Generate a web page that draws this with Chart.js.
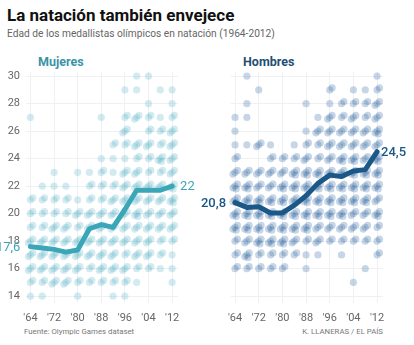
<!DOCTYPE html>
<html>
<head>
<meta charset="utf-8">
<script src="https://cdn.jsdelivr.net/npm/chart.js@4.4.1/dist/chart.umd.min.js"></script>
<style>
  body { margin: 0; width: 414px; height: 345px; background: #fff; position: relative; overflow: hidden; font-family: Roboto, sans-serif; }
  .abs { position: absolute; white-space: nowrap; }
  canvas { position: absolute; }
</style>
</head>
<body>
<div class="abs" style="left:7px; top:5px; font-weight:700; font-size:17px; color:#111;">La natación también envejece</div>
<div class="abs" style="left:7px; top:28px; font-size:10.2px; color:#666;">Edad de los medallistas olímpicos en natación (1964-2012)</div>
<div class="abs" style="left:38px; top:54px; font-weight:700; font-size:12.5px; color:#3a93a6;">Mujeres</div>
<div class="abs" style="left:243px; top:54px; font-weight:700; font-size:12.5px; color:#1f4f73;">Hombres</div>
<canvas id="mujeres" width="200" height="283" style="left:0; top:40px;"></canvas>
<canvas id="hombres" width="214" height="283" style="left:200px; top:40px;"></canvas>
<div class="abs" style="left:24px; top:327px; font-size:7.8px; color:#777;">Fuente: Olympic Games dataset</div>
<div class="abs" style="right:31px; top:327px; font-size:7.8px; color:#777;">K. LLANERAS / EL PAÍS</div>
<script>
const years = [1964, 1968, 1972, 1976, 1980, 1984, 1988, 1992, 1996, 2000, 2004, 2008, 2012];
const xTicks = [1964, 1972, 1980, 1988, 1996, 2004, 2012];
const yTicks = [14, 16, 18, 20, 22, 24, 26, 28, 30];

// edad media por juego
const mediaMujeres = [17.6, 17.5, 17.4, 17.2, 17.35, 18.9, 19.2, 19.0, 20.3, 21.7, 21.7, 21.7, 22];
const mediaHombres = [20.8, 20.45, 20.5, 20.05, 20.05, 20.6, 21.3, 22.2, 22.8, 22.7, 23.1, 23.2, 24.5];

// medallistas por edad (filas) y juego (columnas, '64 ... '12)
const edadesMujeres = [31, 30, 29, 28, 27, 26, 25, 24, 23, 22, 21, 20, 19, 18, 17, 16, 15, 14];
const medallasMujeres = [
  [0, 0, 0, 0, 0, 0, 0, 0, 0, 0, 1, 0, 0],
  [0, 0, 0, 0, 0, 0, 0, 0, 0, 1, 1, 0, 0],
  [0, 0, 0, 0, 0, 0, 0, 0, 1, 1, 0, 1, 1],
  [0, 0, 0, 0, 0, 0, 0, 0, 0, 0, 1, 0, 1],
  [1, 0, 0, 0, 0, 0, 1, 0, 2, 3, 2, 1, 2],
  [0, 0, 0, 0, 0, 0, 0, 0, 3, 0, 2, 2, 3],
  [0, 0, 0, 0, 0, 0, 0, 2, 2, 3, 3, 2, 3],
  [0, 0, 0, 0, 0, 0, 1, 1, 1, 2, 2, 4, 3],
  [0, 0, 1, 0, 1, 1, 2, 1, 3, 3, 2, 2, 3],
  [0, 1, 1, 1, 0, 2, 2, 2, 3, 3, 3, 3, 4],
  [2, 2, 2, 2, 1, 2, 2, 3, 3, 3, 3, 3, 4],
  [2, 2, 2, 2, 3, 3, 3, 3, 3, 4, 3, 3, 3],
  [2, 2, 3, 3, 2, 3, 3, 3, 3, 3, 3, 3, 3],
  [3, 3, 3, 3, 3, 3, 3, 3, 3, 3, 3, 2, 2],
  [3, 3, 3, 3, 3, 3, 3, 3, 2, 3, 3, 2, 1],
  [3, 3, 3, 3, 3, 2, 3, 3, 3, 2, 2, 1, 1],
  [2, 2, 3, 3, 2, 2, 2, 2, 2, 1, 0, 0, 1],
  [1, 1, 0, 0, 1, 0, 0, 1, 1, 0, 0, 0, 0]
];
const edadesHombres = [32, 31, 30, 29, 28, 27, 26, 25, 24, 23, 22, 21, 20, 19, 18, 17, 16, 15];
const medallasHombres = [
  [0, 0, 0, 0, 0, 0, 0, 0, 0, 0, 0, 1, 0],
  [0, 0, 0, 0, 0, 0, 0, 0, 0, 0, 0, 0, 0],
  [0, 1, 0, 0, 0, 0, 0, 0, 0, 0, 0, 0, 1],
  [0, 0, 1, 0, 0, 0, 0, 0, 2, 0, 1, 1, 2],
  [0, 1, 0, 0, 0, 0, 1, 0, 1, 2, 2, 2, 3],
  [1, 1, 0, 0, 0, 0, 0, 1, 3, 2, 3, 2, 3],
  [1, 0, 0, 0, 0, 0, 1, 3, 3, 3, 3, 3, 4],
  [1, 1, 3, 1, 0, 1, 2, 2, 3, 3, 3, 3, 3],
  [2, 0, 0, 2, 2, 2, 3, 2, 3, 4, 4, 3, 4],
  [3, 3, 3, 3, 3, 4, 4, 4, 4, 4, 4, 4, 4],
  [4, 4, 3, 3, 4, 4, 4, 4, 4, 4, 4, 4, 4],
  [4, 4, 4, 4, 4, 4, 4, 4, 4, 4, 4, 4, 3],
  [4, 4, 4, 4, 4, 4, 4, 4, 4, 4, 3, 3, 4],
  [4, 4, 4, 4, 4, 4, 4, 3, 3, 3, 3, 3, 2],
  [2, 3, 4, 4, 4, 3, 2, 3, 2, 2, 2, 2, 2],
  [2, 4, 2, 2, 2, 2, 1, 1, 0, 1, 0, 0, 2],
  [2, 2, 2, 2, 2, 0, 1, 0, 0, 0, 0, 1, 0],
  [0, 0, 0, 0, 0, 0, 0, 0, 0, 0, 1, 0, 0]
];

// small offsets so that stacked dots don't sit exactly on top of each other
const offX = [0, 0.8, -0.7, 0.4, -0.4];
const offY = [0, 0.14, -0.12, -0.2, 0.18];

function buildDots(ages, counts) {
  const pts = [];
  ages.forEach((age, r) => {
    counts[r].forEach((n, c) => {
      for (let k = 0; k < n; k++) {
        pts.push({ x: years[c] + offX[k], y: age + offY[k] });
      }
    });
  });
  return pts;
}

const fmt = (v) => String(v).replace('.', ',');

const endLabels = {
  id: 'endLabels',
  afterDatasetsDraw(chart, args, opts) {
    const pts = chart.getDatasetMeta(0).data;
    const vals = chart.data.datasets[0].data;
    const ctx = chart.ctx;
    const first = pts[0];
    const last = pts[pts.length - 1];
    ctx.save();
    ctx.fillStyle = opts.color;
    ctx.font = opts.font;
    ctx.textBaseline = 'middle';
    ctx.textAlign = 'right';
    ctx.fillText(fmt(vals[0].y), first.x - opts.startGap, first.y + 1);
    ctx.textAlign = 'left';
    ctx.fillText(fmt(vals[vals.length - 1].y), last.x + opts.endGap, last.y + 1);
    ctx.restore();
  }
};

const gridColor = '#eef1f3';

function makePanel(id, ages, counts, media, dotColor, lineColor, yWidth, showY, padRight, labelOpts) {
  return new Chart(document.getElementById(id), {
    type: 'scatter',
    data: {
      datasets: [
        {
          type: 'line',
          data: years.map((y, i) => ({ x: y, y: media[i] })),
          borderColor: lineColor,
          borderWidth: 5,
          pointRadius: 0,
          tension: 0,
          borderCapStyle: 'round',
          borderJoinStyle: 'round',
          clip: false,
          order: 0
        },
        {
          data: buildDots(ages, counts),
          backgroundColor: dotColor,
          borderWidth: 0,
          pointRadius: 3.6,
          clip: false,
          order: 1
        }
      ]
    },
    options: {
      responsive: false,
      animation: false,
      events: [],
      layout: { padding: { left: 0, right: padRight, top: 32, bottom: 0 } },
      plugins: {
        legend: { display: false },
        tooltip: { enabled: false },
        endLabels: labelOpts
      },
      scales: {
        x: {
          type: 'linear',
          min: 1962.5,
          max: 2014,
          afterBuildTicks: (axis) => { axis.ticks = xTicks.map((v) => ({ value: v })); },
          afterFit: (scale) => { scale.height = 20; },
          grid: { color: gridColor, drawTicks: false },
          border: { display: false },
          ticks: {
            padding: 9,
            autoSkip: false,
            maxRotation: 0,
            color: '#666',
            font: { family: 'Roboto', size: 11 },
            callback: (v) => "'" + String(v).slice(2)
          }
        },
        y: {
          min: 13.5,
          max: 30.3,
          afterBuildTicks: (axis) => { axis.ticks = yTicks.map((v) => ({ value: v })); },
          afterFit: (scale) => { scale.width = yWidth; },
          grid: { color: gridColor, drawTicks: false },
          border: { display: false },
          ticks: {
            display: showY,
            padding: 6,
            color: '#666',
            font: { family: 'Roboto', size: 11 }
          }
        }
      }
    },
    plugins: [endLabels]
  });
}

makePanel('mujeres', edadesMujeres, medallasMujeres, mediaMujeres,
  'rgba(70, 172, 192, 0.24)', '#3ba6b7', 26, true, 22,
  { color: '#3ba6b7', font: '13px Roboto', startGap: 10, endGap: 8 });

makePanel('hombres', edadesHombres, medallasHombres, mediaHombres,
  'rgba(38, 98, 158, 0.26)', '#1b5888', 30.6, false, 31,
  { color: '#1b5888', font: '500 13px Roboto', startGap: 9, endGap: 4 });
</script>
</body>
</html>
